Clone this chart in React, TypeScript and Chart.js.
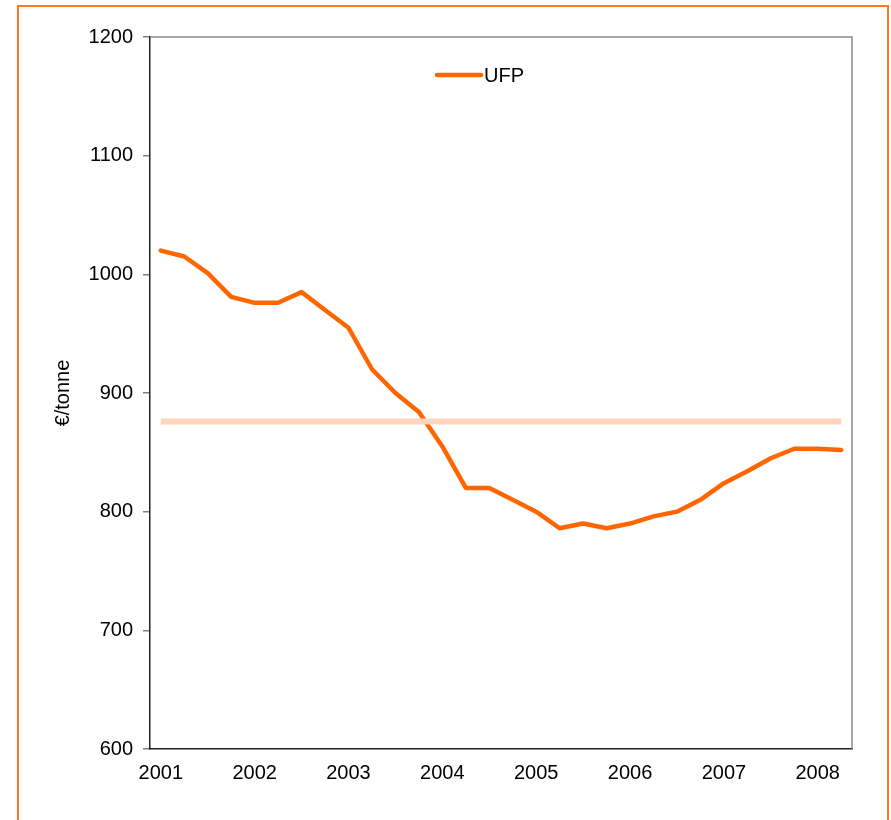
import React, { useEffect, useRef } from "react";
import { Chart, registerables } from "chart.js";

Chart.register(...registerables);

// Quarterly observations, 2001 Q1 .. 2008 Q2
const quarters = [
  "2001 Q1", "2001 Q2", "2001 Q3", "2001 Q4",
  "2002 Q1", "2002 Q2", "2002 Q3", "2002 Q4",
  "2003 Q1", "2003 Q2", "2003 Q3", "2003 Q4",
  "2004 Q1", "2004 Q2", "2004 Q3", "2004 Q4",
  "2005 Q1", "2005 Q2", "2005 Q3", "2005 Q4",
  "2006 Q1", "2006 Q2", "2006 Q3", "2006 Q4",
  "2007 Q1", "2007 Q2", "2007 Q3", "2007 Q4",
  "2008 Q1", "2008 Q2",
];
const ufpValues = [
  1020, 1015, 1001, 981,
  976, 976, 985, 970,
  955, 920, 900, 884,
  855, 820, 820, 810,
  800, 786, 790, 786,
  790, 796, 800, 810,
  824, 834, 845, 853,
  853, 852,
];
const averageValue = 876;
const yearLabels = ["2001", "2002", "2003", "2004", "2005", "2006", "2007", "2008"];
const yearTickIndex = [0, 4, 8, 12, 16, 20, 24, 28];
const yTicks = { min: 600, max: 1200, step: 100 };
const seriesName = "UFP";
const yTitle = "€/tonne";

const FONT = { family: "'Liberation Sans', Arial, sans-serif", size: 20 };

const framePlugin = {
  id: "frameAndLegend",
  afterDraw(chart: any) {
    const { ctx, chartArea } = chart;
    ctx.save();
    // top and right frame
    ctx.strokeStyle = "#8a8a8a";
    ctx.lineWidth = 1.5;
    ctx.beginPath();
    ctx.moveTo(chartArea.left, chartArea.top);
    ctx.lineTo(chartArea.right, chartArea.top);
    ctx.lineTo(chartArea.right, chartArea.bottom);
    ctx.stroke();
    // legend
    const ds = chart.data.datasets[0];
    const y = chartArea.top + 38;
    const x0 = 437;
    ctx.strokeStyle = ds.borderColor;
    ctx.lineWidth = 4.5;
    ctx.lineCap = "round";
    ctx.beginPath();
    ctx.moveTo(x0, y);
    ctx.lineTo(x0 + 44, y);
    ctx.stroke();
    ctx.fillStyle = "#000";
    ctx.font = `${FONT.size}px ${FONT.family}`;
    ctx.textAlign = "left";
    ctx.textBaseline = "middle";
    ctx.fillText(ds.label, x0 + 47, y + 1);
    ctx.restore();
  },
};

export default function App() {
  const ref = useRef<HTMLCanvasElement | null>(null);

  useEffect(() => {
    if (!ref.current) return;
    const mainPoints = ufpValues.map((v, i) => ({ x: i, y: v }));
    const avgPoints = [
      { x: 0, y: averageValue },
      { x: quarters.length - 1, y: averageValue },
    ];
    const chart = new Chart(ref.current, {
      type: "line",
      data: {
        datasets: [
          {
            label: seriesName,
            data: mainPoints,
            borderColor: "#FF6600",
            backgroundColor: "#FF6600",
            borderWidth: 4.5,
            pointRadius: 0,
            tension: 0,
            borderCapStyle: "round",
            borderJoinStyle: "round",
            order: 1,
          },
          {
            label: "average",
            data: avgPoints,
            borderColor: "#FFD6BC",
            borderWidth: 6,
            pointRadius: 0,
            order: 0,
          },
        ],
      },
      options: {
        responsive: false,
        animation: false,
        events: [],
        layout: { padding: { left: 47, top: 37, right: 39, bottom: 31 } },
        plugins: {
          legend: { display: false },
          tooltip: { enabled: false },
        },
        scales: {
          x: {
            type: "linear",
            min: -0.46,
            max: quarters.length - 1 + 0.46,
            afterBuildTicks: (s: any) => {
              s.ticks = yearTickIndex.map((v) => ({ value: v }));
            },
            afterFit: (s: any) => {
              s.height = 40;
            },
            ticks: {
              autoSkip: false,
              maxRotation: 0,
              padding: 12,
              color: "#000",
              font: FONT,
              callback: (v: any) => {
                const i = yearTickIndex.indexOf(Number(v));
                return i >= 0 ? yearLabels[i] : "";
              },
            },
            grid: { display: true, drawOnChartArea: false, drawTicks: false },
            border: { display: true, color: "#222", width: 1.5 },
          },
          y: {
            min: yTicks.min,
            max: yTicks.max,
            afterFit: (s: any) => {
              s.width = 103;
            },
            ticks: {
              stepSize: yTicks.step,
              padding: 10,
              color: "#000",
              font: FONT,
              callback: (v: any) => String(v),
            },
            grid: {
              display: true,
              drawOnChartArea: false,
              drawTicks: true,
              tickLength: 7,
              color: "#808080",
              lineWidth: 1.5,
            },
            border: { display: true, color: "#222", width: 1.5 },
            title: {
              display: true,
              text: yTitle,
              color: "#000",
              font: FONT,
              padding: { top: 4, bottom: 4 },
            },
          },
        },
      } as any,
      plugins: [framePlugin],
    });
    return () => chart.destroy();
  }, []);

  return (
    <div style={{ position: "absolute", left: 0, top: 0, width: 891, height: 820, overflow: "hidden", background: "#fff" }}>
      <canvas ref={ref} width={891} height={820} style={{ position: "absolute", left: 0, top: 0 }} />
      <div
        style={{
          position: "absolute",
          left: 17,
          top: 5,
          width: 872,
          height: 840,
          boxSizing: "border-box",
          border: "2px solid #FF7A1F",
          pointerEvents: "none",
        }}
      />
    </div>
  );
}
